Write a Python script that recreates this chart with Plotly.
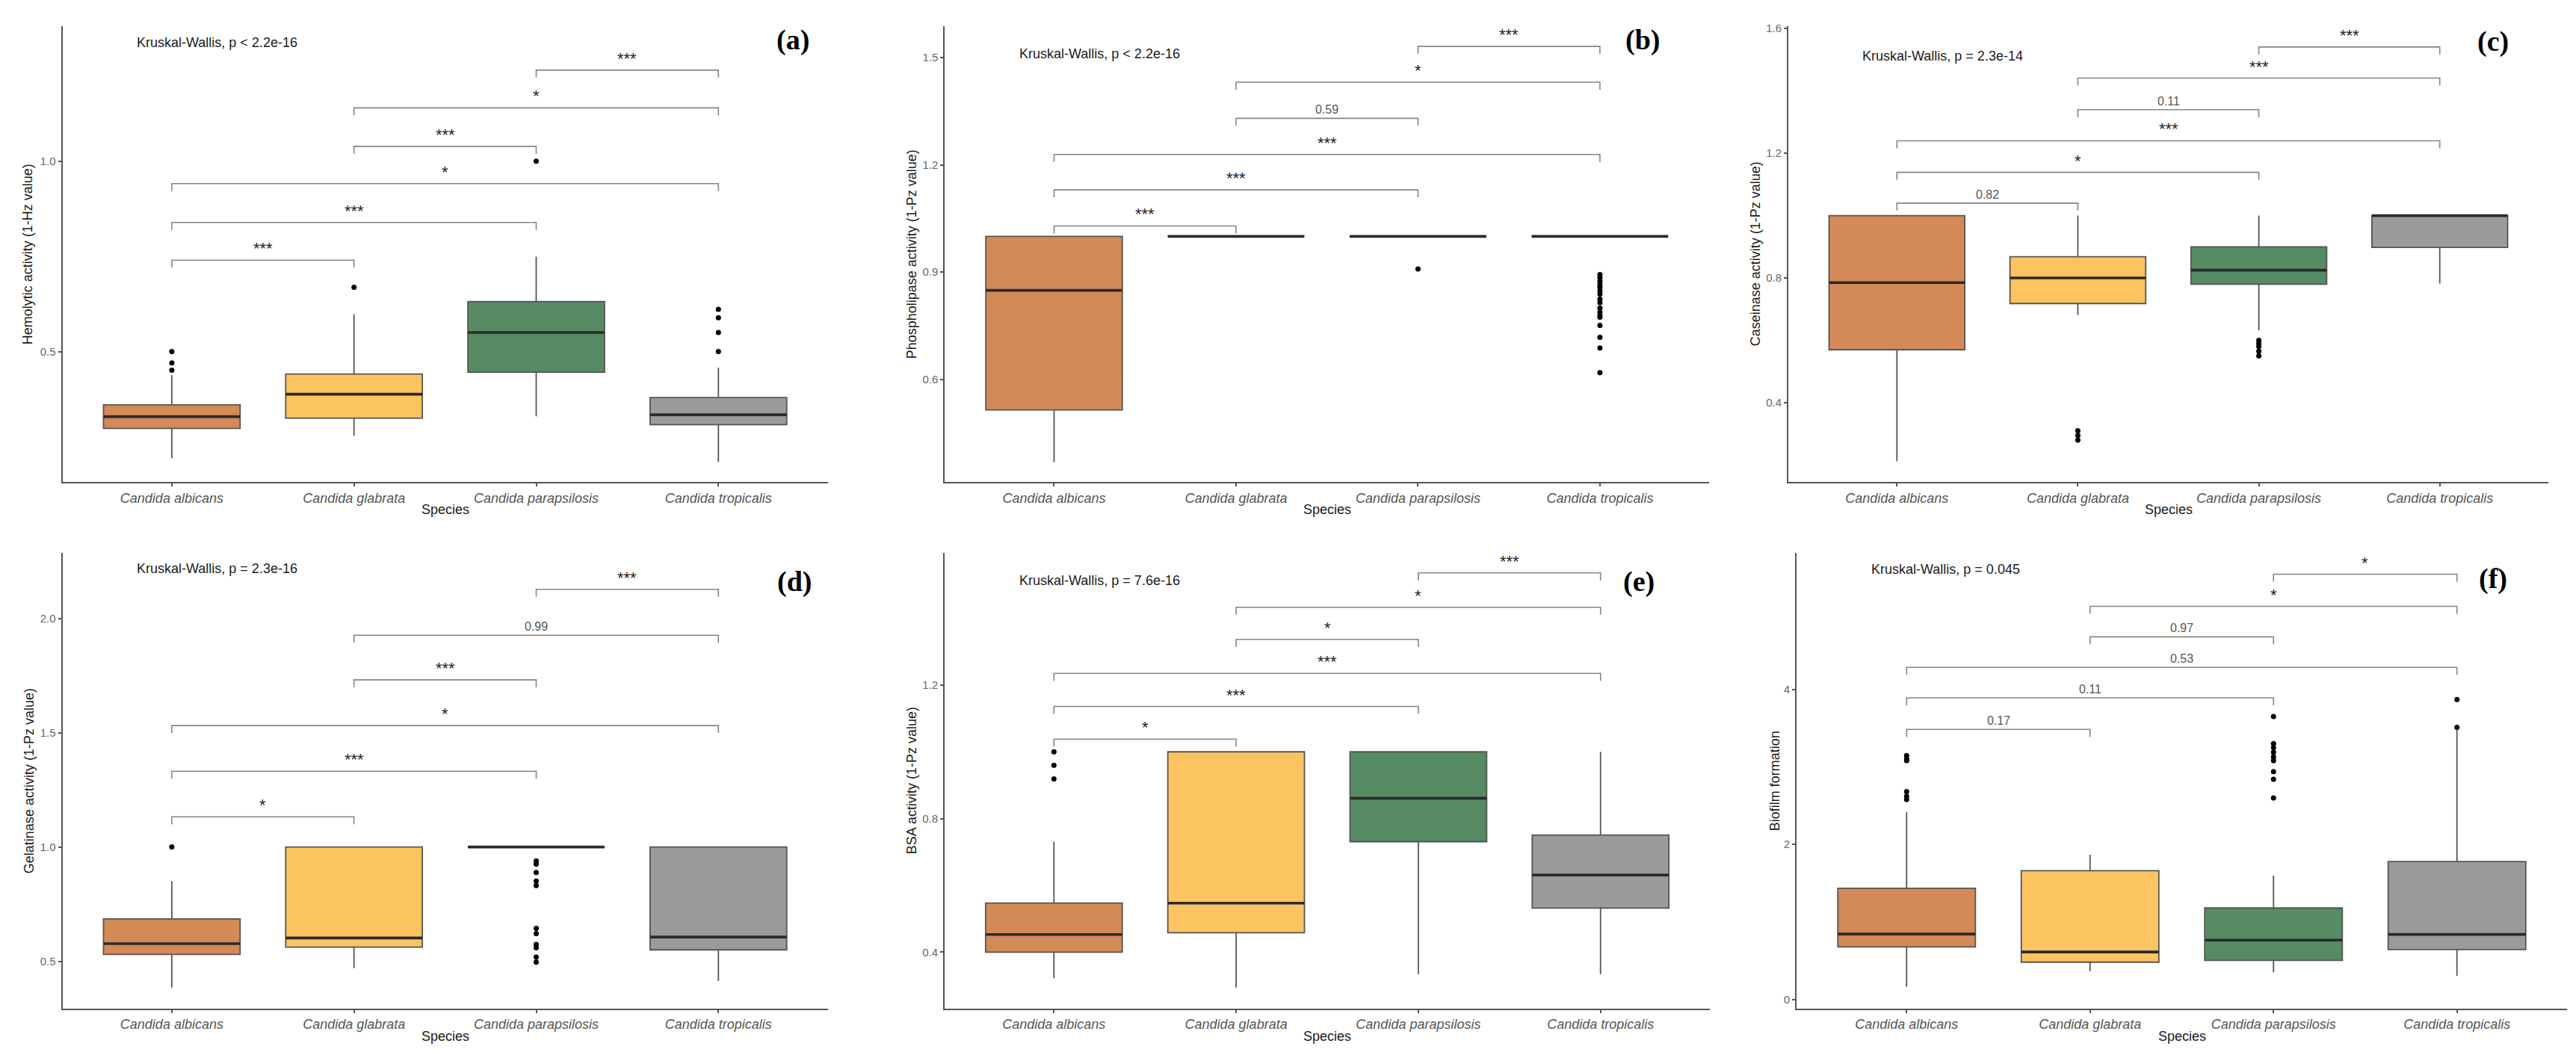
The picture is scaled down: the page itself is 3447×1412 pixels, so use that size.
import plotly.graph_objects as go

# ---------------- data ----------------
species = ["Candida albicans", "Candida glabrata", "Candida parapsilosis", "Candida tropicalis"]
colors = ["#D38A56", "#FBC460", "#568B63", "#9B9B9B"]

# (a) Hemolytic activity
hemo_q1 = [0.298, 0.325, 0.446, 0.308]
hemo_median = [0.329, 0.388, 0.550, 0.334]
hemo_q3 = [0.360, 0.441, 0.631, 0.379]
hemo_low = [0.220, 0.279, 0.330, 0.210]
hemo_high = [0.438, 0.598, 0.749, 0.458]
hemo_out = [[0.451, 0.470, 0.500], [0.669], [1.0], [0.500, 0.550, 0.589, 0.611]]

# (b) Phospholipase activity
phos_q1 = [0.515, 1.0, 1.0, 1.0]
phos_median = [0.849, 1.0, 1.0, 1.0]
phos_q3 = [1.0, 1.0, 1.0, 1.0]
phos_low = [0.369, 1.0, 1.0, 1.0]
phos_high = [1.0, 1.0, 1.0, 1.0]
phos_out = [[], [], [0.909],
            [0.893, 0.885, 0.875, 0.865, 0.858, 0.848, 0.839, 0.825, 0.815, 0.800,
             0.788, 0.780, 0.774, 0.751, 0.718, 0.688, 0.619]]

# (c) Caseinase activity
case_q1 = [0.570, 0.718, 0.780, 0.898]
case_median = [0.785, 0.800, 0.825, 1.0]
case_q3 = [1.0, 0.868, 0.900, 1.0]
case_low = [0.212, 0.681, 0.632, 0.782]
case_high = [1.0, 1.0, 1.0, 1.0]
case_out = [[], [0.280, 0.295, 0.310], [0.550, 0.565, 0.580, 0.590, 0.600], []]

# (d) Gelatinase activity
gela_q1 = [0.530, 0.562, 1.0, 0.550]
gela_median = [0.577, 0.602, 1.0, 0.606]
gela_q3 = [0.685, 1.0, 1.0, 1.0]
gela_low = [0.385, 0.470, 1.0, 0.414]
gela_high = [0.851, 1.0, 1.0, 1.0]
gela_out = [[1.0], [],
            [0.939, 0.925, 0.888, 0.851, 0.831, 0.644, 0.621, 0.574, 0.559, 0.518, 0.496], []]

# (e) BSA activity
bsa_q1 = [0.400, 0.458, 0.731, 0.532]
bsa_median = [0.453, 0.547, 0.861, 0.631]
bsa_q3 = [0.547, 1.0, 1.0, 0.751]
bsa_low = [0.322, 0.294, 0.334, 0.334]
bsa_high = [0.731, 1.0, 1.0, 1.0]
bsa_out = [[0.919, 0.960, 1.0], [], [], []]

# (f) Biofilm formation
bio_q1 = [0.678, 0.481, 0.503, 0.643]
bio_median = [0.844, 0.612, 0.765, 0.839]
bio_q3 = [1.434, 1.661, 1.180, 1.779]
bio_low = [0.162, 0.363, 0.350, 0.306]
bio_high = [2.417, 1.867, 1.596, 3.484]
bio_out = [[2.58, 2.62, 2.68, 3.08, 3.10, 3.147], [],
           [2.60, 2.84, 2.94, 3.08, 3.13, 3.19, 3.25, 3.30, 3.65], [3.51, 3.869]]

# pairwise comparisons (albicans-glabrata, albicans-parapsilosis, albicans-tropicalis,
#                        glabrata-parapsilosis, glabrata-tropicalis, parapsilosis-tropicalis)
pairs = [(0, 1), (0, 2), (0, 3), (1, 2), (1, 3), (2, 3)]
hemo_sig = ["***", "***", "*", "***", "*", "***"]
phos_sig = ["***", "***", "***", "0.59", "*", "***"]
case_sig = ["0.82", "*", "***", "0.11", "***", "***"]
gela_sig = ["*", "***", "*", "***", "0.99", "***"]
bsa_sig = ["*", "***", "***", "*", "*", "***"]
bio_sig = ["0.17", "0.11", "0.53", "0.97", "*", "*"]

kw_labels = ["Kruskal-Wallis, p < 2.2e-16", "Kruskal-Wallis, p < 2.2e-16",
             "Kruskal-Wallis, p = 2.3e-14", "Kruskal-Wallis, p = 2.3e-16",
             "Kruskal-Wallis, p = 7.6e-16", "Kruskal-Wallis, p = 0.045"]
ytitles = ["Hemolytic activity (1-Hz value)", "Phospholipase activity (1-Pz value)",
           "Caseinase activity (1-Pz value)", "Gelatinase activity (1-Pz value)",
           "BSA activity (1-Pz value)", "Biofilm formation"]
panel_tags = ["(a)", "(b)", "(c)", "(d)", "(e)", "(f)"]
yticks = [[0.5, 1.0], [0.6, 0.9, 1.2, 1.5], [0.4, 0.8, 1.2, 1.6],
          [0.5, 1.0, 1.5, 2.0], [0.4, 0.8, 1.2], [0, 2, 4]]
yticktext = [["0.5", "1.0"], ["0.6", "0.9", "1.2", "1.5"], ["0.4", "0.8", "1.2", "1.6"],
             ["0.5", "1.0", "1.5", "2.0"], ["0.4", "0.8", "1.2"], ["0", "2", "4"]]

stats = [
    (hemo_q1, hemo_median, hemo_q3, hemo_low, hemo_high, hemo_out, hemo_sig),
    (phos_q1, phos_median, phos_q3, phos_low, phos_high, phos_out, phos_sig),
    (case_q1, case_median, case_q3, case_low, case_high, case_out, case_sig),
    (gela_q1, gela_median, gela_q3, gela_low, gela_high, gela_out, gela_sig),
    (bsa_q1, bsa_median, bsa_q3, bsa_low, bsa_high, bsa_out, bsa_sig),
    (bio_q1, bio_median, bio_q3, bio_low, bio_high, bio_out, bio_sig),
]

# ---------------- layout geometry (pixels) ----------------
W, H = 3447, 1412
x_px = [(75.6, 1099.6), (1256.4, 2279), (2385, 3402), (75.6, 1099.6), (1256, 2280), (2396, 3427)]
y_px = [(21.4, 634)] * 3 + [(729.5, 1341.6)] * 3
ytitle_x_px = [29, 1212, 2341, 31, 1212, 2367]
tag_px = [(1053, 40), (2190, 40), (3328, 42), (1055, 768), (2185, 768), (3328, 764)]
yranges = [[0.157, 1.354], [0.313, 1.587], [0.145, 1.607], [0.293, 2.285], [0.231, 1.595], [-0.118, 5.757]]
bracket_h = [[0.740, 0.839, 0.941, 1.039, 1.140, 1.239],
             [1.029, 1.130, 1.229, 1.330, 1.431, 1.531],
             [1.040, 1.139, 1.240, 1.340, 1.441, 1.541],
             [1.132, 1.331, 1.531, 1.731, 1.926, 2.127],
             [1.038, 1.136, 1.235, 1.337, 1.433, 1.536],
             [3.484, 3.891, 4.284, 4.678, 5.071, 5.486]]
kw_y = [1.311, 1.51, 1.513, 2.219, 1.514, 5.552]
BOXW = 0.75
FONT = "Liberation Sans, Arial, sans-serif"

fig = go.Figure()
annotations = []
layout = {}

for k in range(6):
    q1, med, q3, lo, hi, outs, sig = stats[k]
    xa = "x" if k == 0 else f"x{k+1}"
    ya = "y" if k == 0 else f"y{k+1}"
    for i in range(4):
        fig.add_trace(go.Box(
            x=[i], q1=[q1[i]], median=[med[i]], q3=[q3[i]],
            lowerfence=[lo[i]], upperfence=[hi[i]],
            width=BOXW, whiskerwidth=0, fillcolor=colors[i],
            line=dict(color="#555555", width=1.8), boxpoints=False,
            xaxis=xa, yaxis=ya, hoverinfo="skip"))
        fig.add_trace(go.Scatter(
            x=[i - BOXW / 2, i + BOXW / 2], y=[med[i], med[i]], mode="lines",
            line=dict(color="#2a2a2a", width=3.6), xaxis=xa, yaxis=ya, hoverinfo="skip"))
        if outs[i]:
            fig.add_trace(go.Scatter(
                x=[i] * len(outs[i]), y=outs[i], mode="markers",
                marker=dict(color="black", size=7), xaxis=xa, yaxis=ya, hoverinfo="skip"))
    span = yranges[k][1] - yranges[k][0]
    plot_h = y_px[k][1] - y_px[k][0]
    drop = 10 * span / plot_h
    for (a, b), h, s in zip(pairs, bracket_h[k], sig):
        fig.add_trace(go.Scatter(
            x=[a, a, b, b], y=[h - drop, h, h, h - drop], mode="lines",
            line=dict(color="#858585", width=1.6), xaxis=xa, yaxis=ya, hoverinfo="skip"))
        star = s.startswith("*")
        annotations.append(dict(
            x=(a + b) / 2, y=h, xref=xa, yref=ya, text=s, showarrow=False,
            yanchor="bottom", yshift=1 if star else 1,
            font=dict(family=FONT, size=22 if star else 16, color="#222222" if star else "#555555")))
    # Kruskal-Wallis label
    annotations.append(dict(x=-0.2, y=kw_y[k], xref=xa, yref=ya, text=kw_labels[k],
                            showarrow=False, xanchor="left", yanchor="middle",
                            font=dict(family=FONT, size=18, color="#1a1a1a")))
    x0, x1 = x_px[k]
    yt, yb = y_px[k]
    # axis titles
    annotations.append(dict(x=ytitle_x_px[k] / W, y=1 - (yt + yb) / 2 / H, xref="paper", yref="paper",
                            text=ytitles[k], textangle=-90, showarrow=False,
                            xanchor="center", yanchor="middle",
                            font=dict(family=FONT, size=18, color="#1a1a1a")))
    annotations.append(dict(x=(x0 + x1) / 2 / W, y=1 - (yb + 37) / H, xref="paper", yref="paper",
                            text="Species", showarrow=False, xanchor="center", yanchor="middle",
                            font=dict(family=FONT, size=18, color="#1a1a1a")))
    tx, ty = tag_px[k]
    annotations.append(dict(x=tx / W, y=1 - ty / H, xref="paper", yref="paper",
                            text="<b>" + panel_tags[k] + "</b>", showarrow=False,
                            xanchor="center", yanchor="middle",
                            font=dict(family="Liberation Serif, Times New Roman, serif", size=38, color="black")))
    xkey = "xaxis" if k == 0 else f"xaxis{k+1}"
    ykey = "yaxis" if k == 0 else f"yaxis{k+1}"
    layout[xkey] = dict(domain=[x0 / W, x1 / W], range=[-0.6, 3.6], anchor=ya,
                        tickvals=[0, 1, 2, 3], ticktext=[f"<i>{s}</i>" for s in species],
                        showline=True, linecolor="#555555", linewidth=2,
                        ticks="outside", ticklen=4, tickwidth=1.5, tickcolor="#555555",
                        showgrid=False, zeroline=False,
                        tickfont=dict(family=FONT, size=18, color="#555555"))
    layout[ykey] = dict(domain=[1 - yb / H, 1 - yt / H], range=yranges[k], anchor=xa,
                        tickvals=yticks[k], ticktext=yticktext[k],
                        showline=True, linecolor="#555555", linewidth=2,
                        ticks="outside", ticklen=4, tickwidth=1.5, tickcolor="#555555",
                        showgrid=False, zeroline=False,
                        tickfont=dict(family=FONT, size=15, color="#666666"))

fig.update_layout(width=W, height=H, margin=dict(l=0, r=0, t=0, b=0),
                  paper_bgcolor="white", plot_bgcolor="white", showlegend=False,
                  annotations=annotations, **layout)
fig.write_html("out.html")
